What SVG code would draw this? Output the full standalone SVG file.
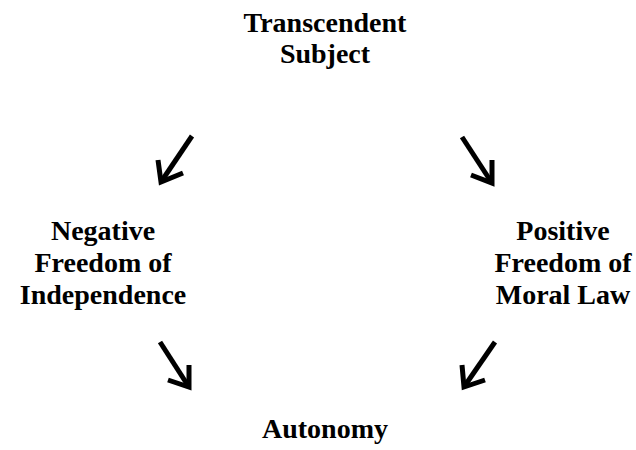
<svg xmlns="http://www.w3.org/2000/svg" width="636" height="450" viewBox="0 0 636 450">
  <style>
    .lbl { font-family: "Liberation Serif", "Times New Roman", serif; font-weight: bold; font-size: 28px; fill: #000; text-anchor: middle; }
    .arw { fill: none; stroke: #000; stroke-width: 5; stroke-linejoin: miter; stroke-linecap: butt; }
  </style>
  <rect width="636" height="450" fill="#fff"/>

  <g id="transcendent-subject">
    <text class="lbl" x="325" y="32">Transcendent</text>
    <text class="lbl" x="325" y="63">Subject</text>
  </g>

  <g id="negative-freedom">
    <text class="lbl" x="103" y="240">Negative</text>
    <text class="lbl" x="103" y="272">Freedom of</text>
    <text class="lbl" x="103" y="304">Independence</text>
  </g>

  <g id="positive-freedom">
    <text class="lbl" x="563" y="240">Positive</text>
    <text class="lbl" x="563" y="272">Freedom of</text>
    <text class="lbl" x="563" y="304">Moral Law</text>
  </g>

  <g id="autonomy">
    <text class="lbl" x="325" y="438">Autonomy</text>
  </g>

  <g id="connectors">
    <!-- subject to negative freedom -->
    <path class="arw" d="M192,136 L163,179"/>
    <path class="arw" d="M158,160 L161,182 L183,173"/>
    <!-- subject to positive freedom -->
    <path class="arw" d="M462,137 L490,180"/>
    <path class="arw" d="M492,160 L492,183 L471,175"/>
    <!-- negative freedom to autonomy -->
    <path class="arw" d="M160,342 L187,384"/>
    <path class="arw" d="M189,365 L189,387 L168,380"/>
    <!-- positive freedom to autonomy -->
    <path class="arw" d="M495,342 L466,384"/>
    <path class="arw" d="M462,365 L464,387 L485,380"/>
  </g>
</svg>
